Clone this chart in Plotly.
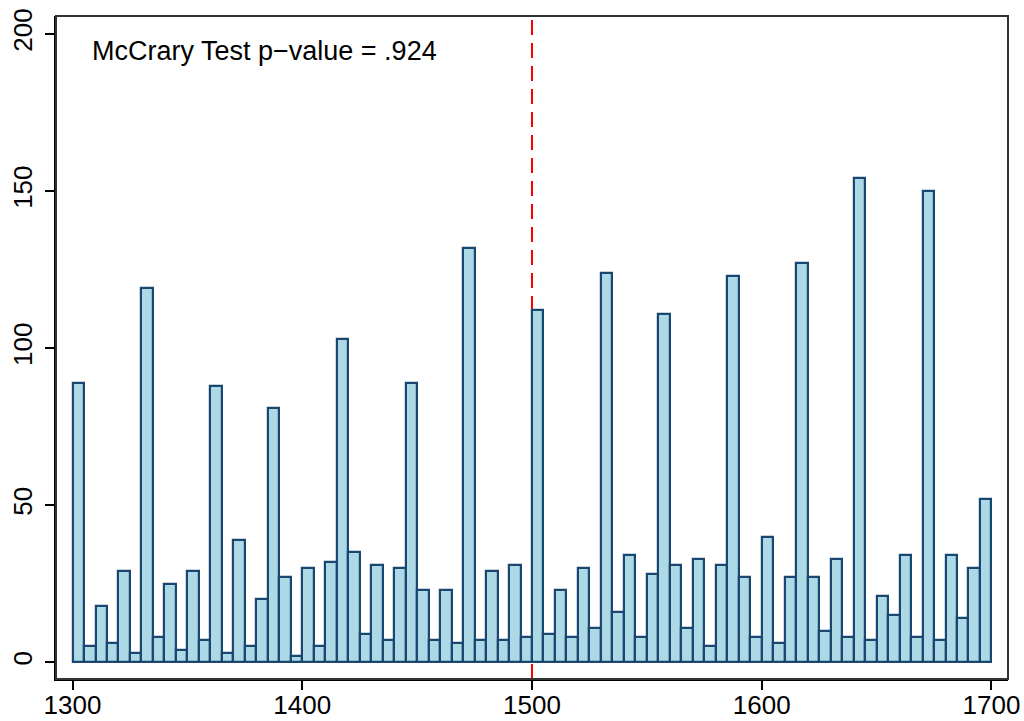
import plotly.graph_objects as go

# Histogram counts in 5-unit bins from 1300 to 1700
bin_start = 1300
bin_width = 5
counts = [
    89, 5, 18, 6, 29, 3, 119, 8, 25, 4,
    29, 7, 88, 3, 39, 5, 20, 81, 27, 2,
    30, 5, 32, 103, 35, 9, 31, 7, 30, 89,
    23, 7, 23, 6, 132, 7, 29, 7, 31, 8,
    112, 9, 23, 8, 30, 11, 124, 16, 34, 8,
    28, 111, 31, 11, 33, 5, 31, 123, 27, 8,
    40, 6, 27, 127, 27, 10, 33, 8, 154, 7,
    21, 15, 34, 8, 150, 7, 34, 14, 30, 52,
]
cutoff = 1500
x_ticks = [1300, 1400, 1500, 1600, 1700]
y_ticks = [0, 50, 100, 150, 200]
note = "McCrary Test p\u2212value = .924"

centers = [bin_start + bin_width * (i + 0.5) for i in range(len(counts))]

FONT = "Liberation Sans, Arial, Helvetica, sans-serif"

fig = go.Figure()
fig.add_trace(go.Bar(
    x=centers,
    y=counts,
    width=bin_width,
    marker=dict(color="#add8e6", line=dict(color="#1a476f", width=2.2)),
    showlegend=False,
    hoverinfo="x+y",
))

# cutoff marker, drawn beneath the bars
fig.add_shape(
    type="line", xref="x", yref="paper",
    x0=cutoff, x1=cutoff, y0=0, y1=0.995,
    line=dict(color="#ff0000", width=2, dash="15px,8px"),
    layer="below",
)

# outer frame of the plot region
fig.add_shape(
    type="rect", xref="paper", yref="paper",
    x0=0, x1=1, y0=0, y1=1,
    line=dict(color="#333333", width=2),
    layer="above",
)

fig.add_annotation(
    text=note, xref="paper", yref="paper",
    x=0.036, y=0.947, xanchor="left", yanchor="middle",
    showarrow=False, font=dict(family=FONT, size=27, color="black"),
)

fig.update_layout(
    width=1024, height=721,
    margin=dict(l=56, r=16, t=16, b=42, autoexpand=False),
    paper_bgcolor="white", plot_bgcolor="white",
    bargap=0,
    font=dict(family=FONT, size=26, color="black"),
)
fig.update_xaxes(
    range=[1292.8, 1707.2],
    tickvals=x_ticks,
    automargin=False,
    ticks="outside", ticklen=9, tickwidth=1.5, tickcolor="black",
    ticklabelstandoff=-7,
    showline=True, linecolor="black", linewidth=2,
    showgrid=False, zeroline=False,
    tickfont=dict(family=FONT, size=26, color="black"),
)
fig.update_yaxes(
    range=[-5.35, 205.73],
    tickvals=y_ticks,
    tickangle=-90,
    automargin=False,
    ticks="outside", ticklen=9, tickwidth=1.5, tickcolor="black",
    ticklabelstandoff=3,
    showline=True, linecolor="black", linewidth=2,
    showgrid=False, zeroline=False,
    tickfont=dict(family=FONT, size=26, color="black"),
)

fig.write_html("out.html")
